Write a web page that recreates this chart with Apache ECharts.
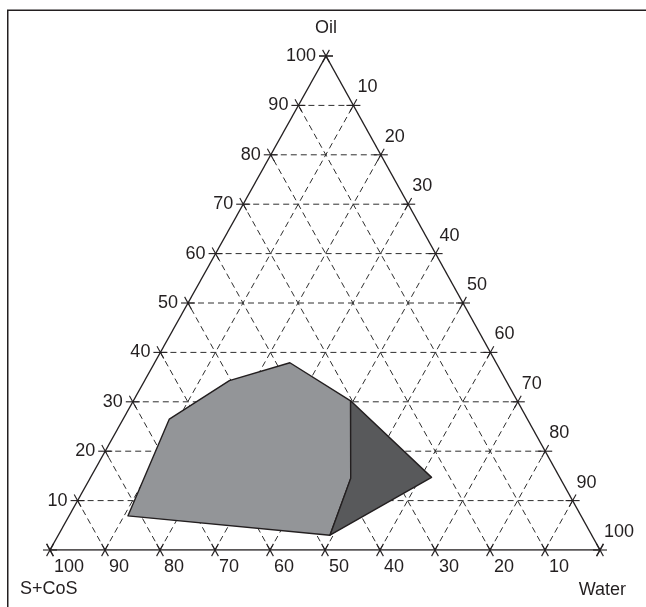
<!DOCTYPE html>
<html><head><meta charset="utf-8">
<script src="https://cdn.jsdelivr.net/npm/echarts@6/dist/echarts.min.js"></script>
<style>html,body{margin:0;padding:0;background:#fff}#c{width:646px;height:607px}</style>
</head><body><div id="c"></div>
<script>
// ---- data (ternary percentages) ----
const oilTicks = [10, 20, 30, 40, 50, 60, 70, 80, 90, 100];
const waterTicks = [10, 20, 30, 40, 50, 60, 70, 80, 90, 100];
const scosTicks = [100, 90, 80, 70, 60, 50, 40, 30, 20, 10];
const gridLevels = [10, 20, 30, 40, 50, 60, 70, 80, 90];
const tickLevels = [0, 10, 20, 30, 40, 50, 60, 70, 80, 90, 100];
// light region vertices (Oil %, Water %; S+CoS = rest)
const lightOil = [6.9, 26.5, 34.3, 37.9, 30.2, 14.5, 3.0];
const lightWater = [10.7, 8.4, 15.4, 24.6, 39.5, 47.4, 49.4];
// dark region vertices
const darkOil = [30.2, 14.7, 3.0, 14.5];
const darkWater = [39.5, 62.0, 49.4, 47.4];
const axisTitles = { top: 'Oil', left: 'S+CoS', right: 'Water' };

// ---- ternary -> cartesian (data space 0..100) ----
const APEX_X = 50.18;
function tern(water, oil) { return [water + APEX_X * oil / 100, oil]; }

const INK = '#231f20';
const FONT = '18px "Liberation Sans", Arial, sans-serif';

const series = [];
function seg(a, b, style, z) {
  series.push({
    type: 'line', data: [a, b], symbol: 'none', silent: true, z: z,
    lineStyle: style, animation: false
  });
}
const dashStyle = { color: '#2e2e2e', width: 1, type: [6, 4] };
gridLevels.forEach(k => {
  seg(tern(0, k), tern(100 - k, k), dashStyle, 1);          // constant oil
  seg(tern(k, 0), tern(k, 100 - k), dashStyle, 1);          // constant water
  seg(tern(100 - k, 0), tern(0, 100 - k), dashStyle, 1);    // constant S+CoS
});

// polygons
function polySeries(oilArr, waterArr, fill, z) {
  return {
    type: 'custom', z: z, silent: true, animation: false,
    data: [[0, 0]],
    renderItem: function (params, api) {
      const pts = waterArr.map((w, i) => api.coord(tern(w, oilArr[i])));
      return { type: 'polygon', shape: { points: pts },
        style: { fill: fill, stroke: INK, lineWidth: 1.4, lineJoin: 'round' } };
    }
  };
}
series.push(polySeries(lightOil, lightWater, '#939598', 2));
series.push(polySeries(darkOil, darkWater, '#58595b', 3));

// triangle edges
const edgeStyle = { color: INK, width: 1.4, type: 'solid' };
seg(tern(0, 0), tern(100, 0), edgeStyle, 4);
seg(tern(0, 0), tern(0, 100), edgeStyle, 4);
seg(tern(100, 0), tern(0, 100), edgeStyle, 4);

// ticks: families 0 = const oil (horizontal), 1 = const water, 2 = const S+CoS
const tickData = [];
tickLevels.forEach(v => {
  const l = tern(0, v); tickData.push([l[0], l[1], 0, 2]);
  const b = tern(v, 0); tickData.push([b[0], b[1], 1, 2]);
  const r = tern(v, 100 - v); tickData.push([r[0], r[1], 0, 1]);
});
series.push({
  type: 'custom', z: 5, silent: true, animation: false, clip: false,
  data: tickData,
  renderItem: function (params, api) {
    const p = api.coord([api.value(0), api.value(1)]);
    const s0 = api.coord(tern(0, 0)), w0 = api.coord(tern(100, 0)), o0 = api.coord(tern(0, 100));
    function unit(a, b) { const dx = b[0] - a[0], dy = b[1] - a[1]; const L = Math.hypot(dx, dy); return [dx / L, dy / L]; }
    const dirs = [[1, 0], unit(s0, o0), unit(w0, o0)];
    const L = 7;
    const children = [api.value(2), api.value(3)].map(f => {
      const d = dirs[f];
      return { type: 'line', shape: { x1: p[0] - d[0] * L, y1: p[1] - d[1] * L, x2: p[0] + d[0] * L, y2: p[1] + d[1] * L },
        style: { stroke: INK, lineWidth: 1.1 } };
    });
    return { type: 'group', children: children };
  }
});

// tick labels
function labelSeries(points, texts, dx, dy, align) {
  return {
    type: 'custom', z: 6, silent: true, animation: false, clip: false,
    data: points,
    renderItem: function (params, api) {
      const p = api.coord([api.value(0), api.value(1)]);
      return { type: 'text', x: p[0] + dx, y: p[1] + dy,
        style: { text: String(texts[params.dataIndex]), fill: INK, font: FONT, align: align, verticalAlign: 'middle' } };
    }
  };
}
series.push(labelSeries(oilTicks.map(v => tern(0, v)), oilTicks, -10, 0, 'right'));
series.push(labelSeries(waterTicks.map(v => tern(v, 100 - v)), waterTicks, 4, -18, 'left'));
series.push(labelSeries(scosTicks.map(v => tern(100 - v, 0)), scosTicks, 4, 17, 'left'));

const chart = echarts.init(document.getElementById('c'), null, { renderer: 'canvas' });
chart.setOption({
  animation: false,
  backgroundColor: '#ffffff',
  grid: { left: 50, right: 46, top: 56, bottom: 57 },
  xAxis: { type: 'value', min: 0, max: 100, show: false },
  yAxis: { type: 'value', min: 0, max: 100, show: false },
  series: series,
  graphic: [
    { type: 'line', shape: { x1: 7.75, y1: 10, x2: 7.75, y2: 607 }, style: { stroke: INK, lineWidth: 1.5 } },
    { type: 'line', shape: { x1: 7, y1: 10.25, x2: 646, y2: 10.25 }, style: { stroke: INK, lineWidth: 1.5 } },
    { type: 'text', x: 326, y: 28, style: { text: axisTitles.top, font: FONT, fill: INK, align: 'center', verticalAlign: 'middle' } },
    { type: 'text', x: 20, y: 589, style: { text: axisTitles.left, font: FONT, fill: INK, align: 'left', verticalAlign: 'middle' } },
    { type: 'text', x: 626, y: 590, style: { text: axisTitles.right, font: FONT, fill: INK, align: 'right', verticalAlign: 'middle' } }
  ]
});
</script>
</body></html>
